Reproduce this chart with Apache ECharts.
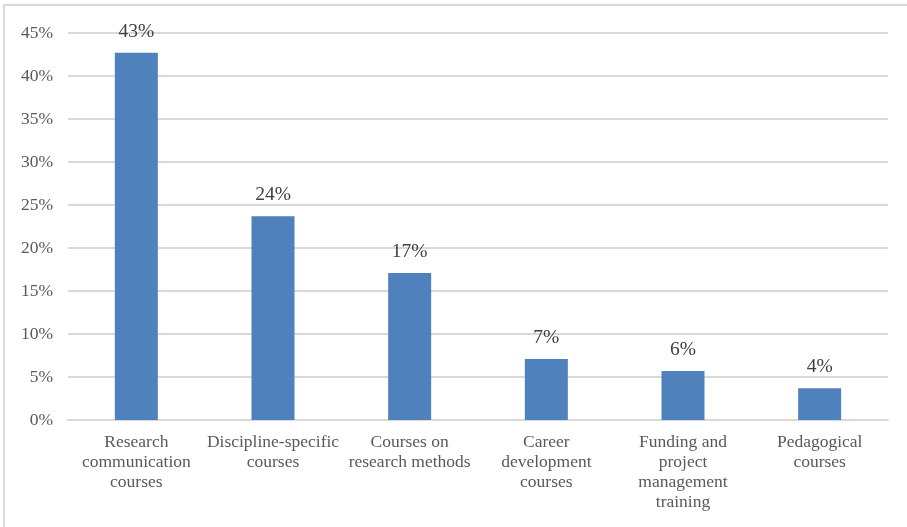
<!DOCTYPE html>
<html>
<head>
<meta charset="utf-8">
<script src="https://cdn.jsdelivr.net/npm/echarts@6/dist/echarts.min.js"></script>
<style>
html,body{margin:0;padding:0;background:#fff;}
#chart{width:907px;height:527px;}
</style>
</head>
<body>
<div id="chart"></div>
<script>
const categories = [
  "Research\ncommunication\ncourses",
  "Discipline-specific\ncourses",
  "Courses on\nresearch methods",
  "Career\ndevelopment\ncourses",
  "Funding and\nproject\nmanagement\ntraining",
  "Pedagogical\ncourses"
];
const values = [42.7, 23.7, 17.1, 7.1, 5.7, 3.7];
const yTicks = { min: 0, max: 45, interval: 5 };

const chart = echarts.init(document.getElementById('chart'), null, { renderer: 'canvas' });
const font = '"Liberation Serif", "Times New Roman", serif';
chart.setOption({
  animation: false,
  backgroundColor: '#ffffff',
  graphic: [
    { type: 'rect', shape: { x: 4, y: 5, width: 1000, height: 1000 },
      style: { fill: 'none', stroke: '#d9d9d9', lineWidth: 2 }, silent: true, z: -1 }
  ],
  grid: { left: 68, right: 19, top: 33, bottom: 107, containLabel: false },
  xAxis: {
    type: 'category',
    data: categories,
    axisLine: { show: true, lineStyle: { color: '#d9d9d9', width: 2 } },
    axisTick: { show: false },
    axisLabel: {
      interval: 0, margin: 12, color: '#595959',
      fontFamily: font, fontSize: 17.5, lineHeight: 20
    }
  },
  yAxis: {
    type: 'value',
    min: yTicks.min, max: yTicks.max, interval: yTicks.interval,
    axisLine: { show: false },
    axisTick: { show: false },
    splitLine: { lineStyle: { color: '#d9d9d9', width: 2 } },
    axisLabel: {
      margin: 15, color: '#595959', fontFamily: font, fontSize: 17.5,
      formatter: v => v + '%'
    }
  },
  series: [{
    type: 'bar',
    data: values,
    barWidth: 43,
    itemStyle: { color: '#4f81bd' },
    label: {
      show: true, position: 'top', distance: 11,
      color: '#404040', fontFamily: font, fontSize: 19.5,
      formatter: p => Math.round(p.value) + '%'
    }
  }]
});
</script>
</body>
</html>
